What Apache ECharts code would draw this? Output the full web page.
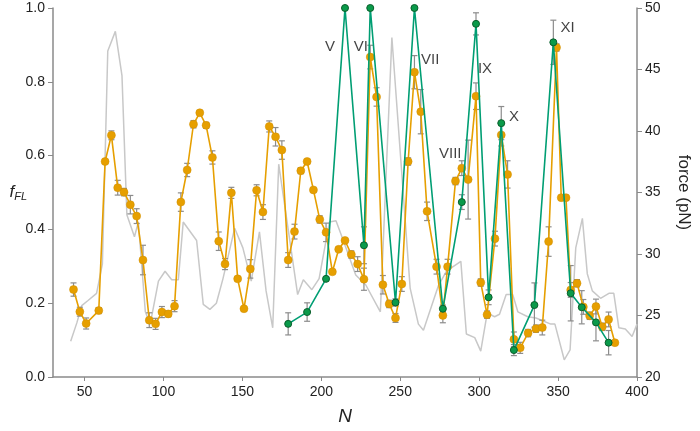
<!DOCTYPE html>
<html>
<head>
<meta charset="utf-8">
<script src="https://cdn.jsdelivr.net/npm/echarts@6/dist/echarts.min.js"></script>
<style>
  html, body { margin: 0; padding: 0; background: #fff; }
  #chart { width: 700px; height: 431px; }
</style>
</head>
<body>
<div id="chart"></div>
<script>
// ---- Data ----
const xTicks = [50, 100, 150, 200, 250, 300, 350, 400];

const orangeN = [43,47,51,59,63,67,71,75,79,83,87,91,95,99,103,107,111,115,119,123,127,131,135,139,143,147,151,155,159,163,167,171,175,179,183,187,191,195,199,203,207,211,215,219,223,227,231,235,239,243,247,251,255,259,263,267,273,277,280,285,289,293,298,301,305,310,314,318,322,326,331,336,340,344,349,352,355,358,362,366,370,374,378,382,386];
const orangeF = [0.237,0.177,0.145,0.180,0.584,0.655,0.513,0.501,0.467,0.436,0.317,0.154,0.144,0.176,0.171,0.192,0.474,0.561,0.685,0.716,0.682,0.595,0.368,0.306,0.499,0.266,0.185,0.293,0.506,0.447,0.679,0.651,0.615,0.317,0.394,0.559,0.584,0.507,0.427,0.392,0.285,0.346,0.370,0.332,0.306,0.265,0.867,0.759,0.250,0.198,0.160,0.252,0.584,0.826,0.719,0.449,0.299,0.167,0.299,0.531,0.566,0.535,0.761,0.256,0.169,0.375,0.656,0.549,0.102,0.079,0.119,0.131,0.134,0.367,0.893,0.486,0.486,0.236,0.254,0.190,0.166,0.191,0.136,0.156,0.093];
const orangeErr = [0.018,0.012,0.015,0.008,0.005,0.012,0.02,0.01,0.025,0.02,0.04,0.02,0.015,0.015,0.008,0.015,0.025,0.018,0.01,0.005,0.008,0.018,0.025,0.015,0.015,0.005,0.005,0.025,0.015,0.02,0.015,0.025,0.025,0.02,0.02,0.008,0.005,0.005,0.01,0.025,0.005,0.005,0.005,0.01,0.02,0.03,0.032,0.025,0.025,0.01,0.012,0.02,0.01,0.045,0.06,0.025,0.02,0.02,0.02,0.01,0.02,0.107,0.036,0.01,0.01,0.02,0.03,0.037,0.02,0.015,0.01,0.01,0.02,0.04,0.01,0.005,0.005,0.02,0.01,0.02,0.01,0.02,0.01,0.02,0.005];

const greenN = [179,191,203,215,227,231,247,259,277,289,298,306,314,322,335,347,358,365,374,382];
const greenF = [0.144,0.176,0.266,1.0,0.357,1.0,0.202,1.0,0.185,0.474,0.957,0.216,0.688,0.073,0.195,0.907,0.227,0.189,0.148,0.093];
const greenErr = [0.03,0.025,0.005,0,0.05,0,0.01,0,0.01,0.02,0.03,0.02,0.045,0.015,0.06,0.06,0.075,0.045,0.05,0.033];

const forceN = [41.2,45.1,48.2,52,57.6,61.3,64.7,69.5,73.7,76.8,81.6,84.1,88.5,91.6,96.8,101.0,105.2,109.4,112.5,121.0,125.2,129.4,133.5,137.7,145.1,150.3,155.6,160.8,165.0,169.2,173.0,185.0,188.6,194.0,198.6,205.1,209.3,214.5,221.8,228.1,237.4,244.7,256.3,261.5,264.7,274.1,279.3,288.4,291.9,297.2,301.0,305.1,309.8,312.9,317.1,321.3,324.5,330.8,336.0,345.4,348.0,353.9,357.6,361.2,365.4,368.5,371.7,376.9,382.2,385.3,388.5,392.6,396.9,400];
const forcePN = [22.9,24.4,25.8,26.2,26.8,29.2,46.5,48.1,44.5,33.2,31.4,32.6,25.3,24.3,27.8,28.6,27.9,27.9,32.6,31.1,25.9,25.5,26.0,28.0,32.1,30.5,27.8,31.8,27.0,24.0,37.3,26.7,27.9,27.1,28.0,32.6,32.7,30.9,28.3,27.5,25.3,47.6,27.2,24.3,23.8,27.4,28.6,29.4,23.5,23.2,22.1,25.2,24.9,25.1,26.7,26.7,25.3,24.9,24.8,24.3,24.3,21.4,22.2,30.5,32.9,28.4,27.0,26.4,26.8,26.8,24.0,23.9,23.3,24.3];

const peakLabels = ['V','VI','VII','VIII','IX','X','XI'];
const peakLabelN = [205.5,225,269,281.7,303.7,322,356];
const peakLabelF = [0.895,0.895,0.86,0.604,0.836,0.704,0.946];

// ---- Build ----
const zip2 = (a, b) => a.map((v, i) => [v, b[i]]);
const errData = (n, f, e) => n.map((v, i) => [v, f[i] - e[i], f[i] + e[i]]).filter(d => d[2] - d[1] > 0);

function errRender(params, api) {
  const x = api.value(0), lo = api.value(1), hi = api.value(2);
  const p1 = api.coord([x, lo]);
  const p2 = api.coord([x, hi]);
  const w = 3;
  const st = { stroke: '#8c8c8c', lineWidth: 1.2 };
  return {
    type: 'group',
    children: [
      { type: 'line', shape: { x1: p1[0], y1: p1[1], x2: p2[0], y2: p2[1] }, style: st },
      { type: 'line', shape: { x1: p1[0] - w, y1: p1[1], x2: p1[0] + w, y2: p1[1] }, style: st },
      { type: 'line', shape: { x1: p2[0] - w, y1: p2[1], x2: p2[0] + w, y2: p2[1] }, style: st }
    ]
  };
}

const axisColor = '#8a8a8a';
const FONT = 'Liberation Sans, Arial, sans-serif';
const labelStyle = { color: '#222', fontSize: 14, fontFamily: FONT };

const chart = echarts.init(document.getElementById('chart'), null, { renderer: 'canvas' });
chart.setOption({
  animation: false,
  backgroundColor: '#fff',
  grid: { left: 53, right: 60, top: 8, bottom: 51, containLabel: false },
  xAxis: {
    type: 'value', min: 30, max: 400,
    name: 'N', nameLocation: 'middle', nameGap: 30, nameMoveOverlap: false,
    nameTextStyle: { fontSize: 19, fontStyle: 'italic', color: '#222', fontFamily: FONT },
    axisLine: { show: true, lineStyle: { color: axisColor, width: 1.5 } },
    axisTick: { show: true, length: 4, lineStyle: { color: axisColor }, customValues: xTicks },
    axisLabel: { ...labelStyle, margin: 8, customValues: xTicks },
    splitLine: { show: false }
  },
  yAxis: [
    {
      type: 'value', min: 0, max: 1, interval: 0.2, position: 'left',
      name: '{f|f}{s|FL}', nameLocation: 'middle', nameRotate: 0, nameGap: 26, nameMoveOverlap: false,
      nameTextStyle: {
        rich: {
          f: { fontSize: 17, fontStyle: 'italic', color: '#222', fontFamily: FONT },
          s: { fontSize: 11, fontStyle: 'italic', color: '#222', verticalAlign: 'bottom', padding: [8, 0, 0, 0], fontFamily: FONT }
        }
      },
      axisLine: { show: true, lineStyle: { color: axisColor, width: 1.5 } },
      axisTick: { show: true, length: 5, lineStyle: { color: axisColor } },
      axisLabel: { ...labelStyle, margin: 8, formatter: v => v.toFixed(1) },
      splitLine: { show: false }
    },
    {
      type: 'value', min: 20, max: 50, interval: 5, position: 'right',
      name: 'force (pN)', nameLocation: 'middle', nameRotate: -90, nameGap: 38, nameMoveOverlap: false,
      nameTextStyle: { fontSize: 17, color: '#222', fontFamily: FONT },
      axisLine: { show: true, lineStyle: { color: axisColor, width: 1.5 } },
      axisTick: { show: true, length: 5, lineStyle: { color: axisColor } },
      axisLabel: { ...labelStyle, margin: 8 },
      splitLine: { show: false }
    }
  ],
  series: [
    {
      type: 'line', name: 'force', yAxisIndex: 1, data: zip2(forceN, forcePN),
      showSymbol: false, lineStyle: { color: '#c8c8c8', width: 1.5 }, z: 1
    },
    {
      type: 'custom', name: 'errO', yAxisIndex: 0, data: errData(orangeN, orangeF, orangeErr),
      renderItem: errRender, z: 3, encode: { x: 0, y: [1, 2] }
    },
    {
      type: 'custom', name: 'errG', yAxisIndex: 0, data: errData(greenN, greenF, greenErr),
      renderItem: errRender, z: 3, encode: { x: 0, y: [1, 2] }
    },
    {
      type: 'line', name: 'orange', data: zip2(orangeN, orangeF),
      symbol: 'circle', symbolSize: 8, showAllSymbol: true,
      itemStyle: { color: '#E69F00', borderColor: '#d08e00', borderWidth: 0.5 },
      lineStyle: { color: '#E69F00', width: 1.6 }, z: 4
    },
    {
      type: 'line', name: 'green', data: zip2(greenN, greenF),
      symbol: 'circle', symbolSize: 7, showAllSymbol: true,
      itemStyle: { color: '#0a9a4a', borderColor: '#0b5e2c', borderWidth: 1 },
      lineStyle: { color: '#009E73', width: 1.6 }, z: 5
    },
    {
      type: 'scatter', name: 'labels', symbolSize: 0, z: 6,
      data: peakLabels.map((t, i) => ({ value: [peakLabelN[i], peakLabelF[i]], name: t })),
      label: {
        show: true, position: 'inside', formatter: p => p.name,
        color: '#111', fontSize: 15, fontFamily: FONT
      }
    }
  ]
});
</script>
</body>
</html>
